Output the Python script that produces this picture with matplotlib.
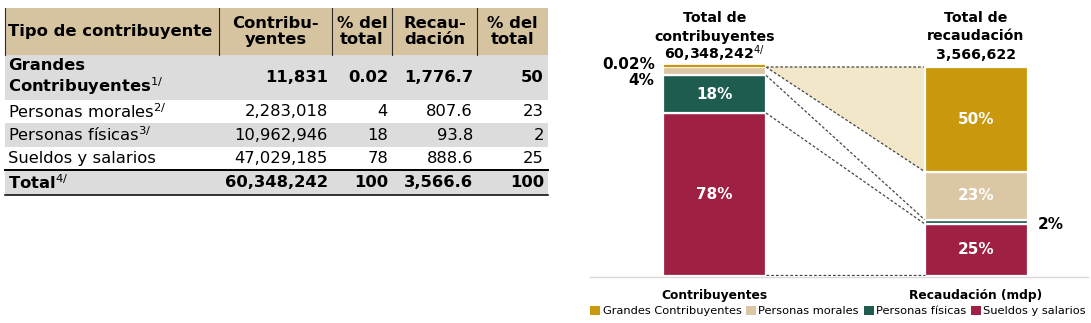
import matplotlib
matplotlib.use("Agg")
import matplotlib.pyplot as plt
from matplotlib.patches import Rectangle, Patch
import numpy as np

plt.rcParams["font.family"] = ["DejaVu Sans"]
plt.rcParams["mathtext.fontset"] = "dejavusans"

# ---- data -------------------------------------------------------------
categories = ["Grandes Contribuyentes", "Personas morales",
              "Personas físicas", "Sueldos y salarios"]
row_labels = ["Grandes\nContribuyentes", "Personas morales",
              "Personas físicas", "Sueldos y salarios"]
footnotes = ["1/", "2/", "3/", ""]
contribuyentes = [11831, 2283018, 10962946, 47029185]
pct_contribuyentes = [0.02, 4, 18, 78]
recaudacion = [1776.7, 807.6, 93.8, 888.6]
pct_recaudacion = [50, 23, 2, 25]
total_contribuyentes = 60348242
total_recaudacion = 3566.6
total_recaudacion_label = "3,566,622"
header_labels = ["Tipo de contribuyente", "Contribu-\nyentes", "% del\ntotal",
                 "Recau-\ndación", "% del\ntotal"]
bar_names = ["Contribuyentes", "Recaudación (mdp)"]
title_lines = [["Total de", "contribuyentes",
                f"{total_contribuyentes:,}" + r"$^{4/}$"],
               ["Total de", "recaudación", total_recaudacion_label]]

# ---- colours ----------------------------------------------------------
seg_colors = ["#C9980C", "#DCC7A5", "#1E5C4F", "#9E2143"]
head_bg = "#D6C3A0"
grey_bg = "#DCDCDC"
cream = "#F3E7C9"

W, H = 1091, 323
fig = plt.figure(figsize=(W / 100, H / 100), dpi=100)
bg = fig.add_axes([0, 0, 1, 1])
bg.set_xlim(0, W)
bg.set_ylim(H, 0)
bg.axis("off")

# ---- table ------------------------------------------------------------
col_edges = [5, 219, 332, 392, 477, 548]
row_edges = [8, 55, 100, 123, 147, 170, 195]
row_bgs = [head_bg, grey_bg, "white", grey_bg, "white", grey_bg]
fs_tab = 11.8

for i, c in enumerate(row_bgs):
    bg.add_patch(Rectangle((col_edges[0], row_edges[i]),
                           col_edges[-1] - col_edges[0],
                           row_edges[i + 1] - row_edges[i],
                           facecolor=c, edgecolor="none", zorder=1))
for xe in col_edges[:-1]:
    bg.plot([xe, xe], [row_edges[0], row_edges[1]], color="#2b2b2b",
            lw=0.8, zorder=2)
bg.plot([col_edges[0], col_edges[-1]], [row_edges[5], row_edges[5]],
        color="black", lw=1.4, zorder=3)
bg.plot([col_edges[0], col_edges[-1]], [row_edges[6], row_edges[6]],
        color="black", lw=1.1, zorder=3)

hy = (row_edges[0] + row_edges[1]) / 2
bg.text(col_edges[0] + 3, hy, header_labels[0], ha="left", va="center",
        fontsize=fs_tab, fontweight="bold", zorder=4)
for j in range(1, 5):
    cx = (col_edges[j] + col_edges[j + 1]) / 2
    bg.text(cx, hy, header_labels[j], ha="center", va="center",
            fontsize=fs_tab, fontweight="bold", linespacing=1.15, zorder=4)


def fmt_pct(v):
    return f"{v:g}"


rows_text = []
for k in range(4):
    rows_text.append([row_labels[k], f"{contribuyentes[k]:,}",
                      fmt_pct(pct_contribuyentes[k]),
                      f"{recaudacion[k]:,.1f}", fmt_pct(pct_recaudacion[k])])
rows_text.append(["Total", f"{total_contribuyentes:,}", "100",
                  f"{total_recaudacion:,.1f}", "100"])
row_notes = footnotes + ["4/"]
row_bold = [True, False, False, False, True]

for r, cells in enumerate(rows_text):
    y = (row_edges[r + 1] + row_edges[r + 2]) / 2
    wt = "bold" if row_bold[r] else "normal"
    label = cells[0]
    if row_notes[r]:
        label = label + r"$^{" + row_notes[r] + r"}$"
    bg.text(col_edges[0] + 3, y, label, ha="left", va="center",
            fontsize=fs_tab, fontweight=wt, linespacing=1.1, zorder=4)
    for j in range(1, 5):
        bg.text(col_edges[j + 1] - 4, y, cells[j], ha="right", va="center",
                fontsize=fs_tab, fontweight=wt, zorder=4)

# ---- stacked comparison bars -----------------------------------------
ax = fig.add_axes([590 / W, (H - 276) / H, 498 / W, 276 / H])
ax.spines["bottom"].set_position(("outward", 1))
px_per_unit = 2.09
ax.set_xlim(-0.476, 1.428)
ax.set_ylim(0, 276 / px_per_unit)
bw = 0.394

series = [pct_contribuyentes, pct_recaudacion]
tops = []
for xi, vals in enumerate(series):
    # stack from the bottom: last category first
    order = list(range(len(vals)))[::-1]
    bottom = 0.0
    t = {}
    for k in order:
        v = vals[k]
        t[k] = (bottom, bottom + v)
        if not (xi == 0 and k == 0):
            ax.bar(xi, v, bottom=bottom, width=bw, color=seg_colors[k],
                   edgecolor="white", linewidth=1.6, zorder=3)
        bottom += v
    tops.append(t)

# thin top slice of the first bar drawn as a line so it stays visible
b0, b1 = tops[0][0]
ax.plot([-bw / 2 + 0.004, bw / 2 - 0.004], [b0 + 0.5, b0 + 0.5],
        color=seg_colors[0], lw=1.6, zorder=4, solid_capstyle="butt")

# connectors between the two bars
x0, x1 = bw / 2, 1 - bw / 2
ls = (0, (2.2, 1.6))
lc = "#444444"
ax.fill([x0, x1, x1, x0],
        [tops[0][0][1], tops[1][0][1], tops[1][0][0], tops[0][0][0]],
        color=cream, zorder=1, lw=0)
ax.plot([x0, x1], [tops[0][0][1], tops[1][0][1]], ls=ls, color=lc, lw=0.9, zorder=2)
for k in range(4):
    ax.plot([x0, x1], [tops[0][k][0] + 0.4 * (k == 3), tops[1][k][0] + 0.4 * (k == 3)],
            ls=ls, color=lc, lw=0.9, zorder=4)

# value labels
fs_pct = 11
for xi, vals in enumerate(series):
    for k, v in enumerate(vals):
        lo, hi = tops[xi][k]
        if v >= 10:
            ax.text(xi, (lo + hi) / 2, f"{fmt_pct(v)}%", ha="center",
                    va="center", color="white", fontsize=fs_pct,
                    fontweight="bold", zorder=5)

ax.annotate(f"{fmt_pct(pct_contribuyentes[0])}%",
            xy=(-bw / 2, tops[0][0][1]), xytext=(-6, 2),
            textcoords="offset points", ha="right", va="center",
            fontsize=fs_pct, fontweight="bold")
ax.annotate(f"{fmt_pct(pct_contribuyentes[1])}%",
            xy=(-bw / 2, tops[0][1][1]), xytext=(-6, -9.5),
            textcoords="offset points", ha="right", va="center",
            fontsize=fs_pct, fontweight="bold")
lo, hi = tops[1][2]
ax.annotate(f"{fmt_pct(pct_recaudacion[2])}%",
            xy=(1 + bw / 2, (lo + hi) / 2), xytext=(7, -2),
            textcoords="offset points", ha="left", va="center",
            fontsize=fs_pct, fontweight="bold")

# titles above the bars, one baseline per line so both columns align
line_gap = 18.5 / px_per_unit
first_base = 100 + 8 / px_per_unit + 2 * line_gap
for xi, lines in enumerate(title_lines):
    for li, txt in enumerate(lines):
        ax.text(xi, first_base - li * line_gap, txt, ha="center",
                va="baseline", fontsize=10.2, fontweight="bold")

ax.set_xticks([0, 1], bar_names, fontsize=8.8, fontweight="bold")
ax.tick_params(axis="x", length=0, pad=8)
ax.set_yticks([])
for s in ["left", "right", "top"]:
    ax.spines[s].set_visible(False)
ax.spines["bottom"].set_color("#d9d9d9")
ax.spines["bottom"].set_linewidth(1.0)
ax.set_facecolor("none")

handles = [Patch(facecolor=c, edgecolor="none") for c in seg_colors]
fig.legend(handles, categories, loc="center", bbox_to_anchor=(838 / W, 1 - 311 / H),
           ncol=4, frameon=False, fontsize=8.2, handlelength=0.9,
           handleheight=0.9, handletextpad=0.2, columnspacing=0.4,
           borderpad=0)

fig.savefig("out.png", dpi=100)
